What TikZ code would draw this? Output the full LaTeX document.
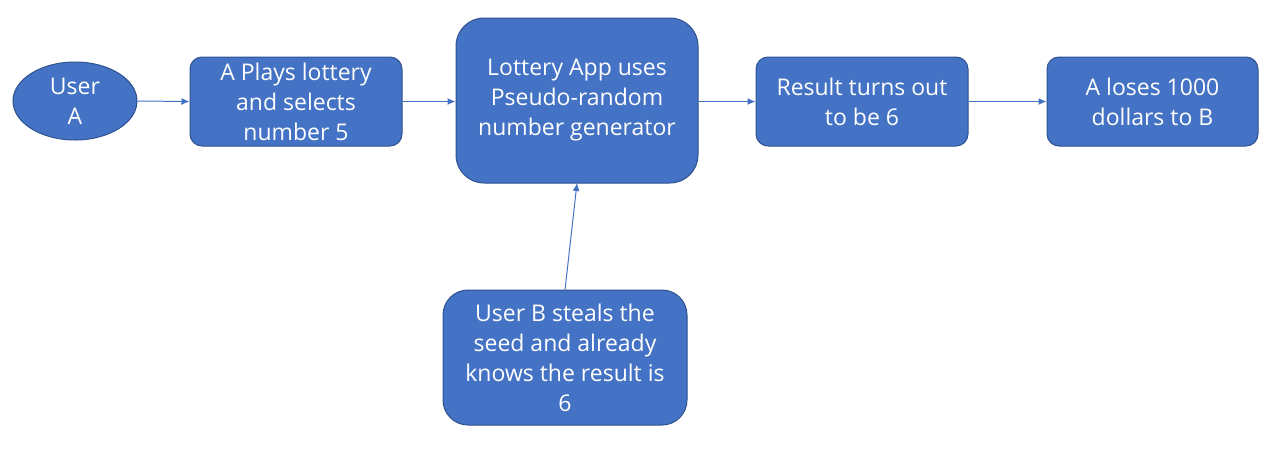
\documentclass[tikz,border=0pt]{standalone}
\usepackage{fontspec}
\setmainfont{Open Sans}
\usetikzlibrary{arrows.meta,shapes.geometric}
\definecolor{boxfill}{HTML}{4472C4}
\definecolor{boxline}{HTML}{2F528F}
\tikzset{
  base/.style={fill=boxfill, draw=boxline, line width=1pt, text=white, align=center,
    font=\fontsize{23}{30}\selectfont, inner sep=0pt},
  rbox/.style={base, rectangle, rounded corners=#1},
  ubox/.style={base, ellipse},
  conn/.style={draw=boxfill, line width=1pt, -{Latex[length=8pt,width=7pt]}}
}
\begin{document}
\begin{tikzpicture}[x=1pt,y=-1pt]
\useasboundingbox (0,0) rectangle (1275,456);
\node[ubox, minimum width=124pt, minimum height=78pt] (ua) at (75,101) {User\\A};
\node[rbox=12pt, minimum width=212pt, minimum height=89pt] (play) at (296,101.5) {A Plays lottery\\and selects\\number 5};
\node[rbox=28pt, minimum width=242pt, minimum height=165pt] (app) at (577,100.5) {Lottery App uses\\Pseudo-random\\number generator};
\node[rbox=12pt, minimum width=212pt, minimum height=89pt] (res) at (862,101.5) {Result turns out\\to be 6};
\node[rbox=12pt, minimum width=211pt, minimum height=89pt] (lose) at (1152.5,101.5) {A loses 1000\\dollars to B};
\node[rbox=25pt, minimum width=244pt, minimum height=135pt] (ub) at (565,357.5) {User B steals the\\seed and already\\knows the result is\\6};
\coordinate (ubtop) at (565,290);
\coordinate (appbot) at (577,183);
\draw[conn] (ua.east) -- (play.west);
\draw[conn] (play.east) -- (app.west |- play.east);
\draw[conn] (app.east |- res.west) -- (res.west);
\draw[conn] (res.east) -- (lose.west);
\draw[conn] (ubtop) -- (appbot);
\end{tikzpicture}
\end{document}
